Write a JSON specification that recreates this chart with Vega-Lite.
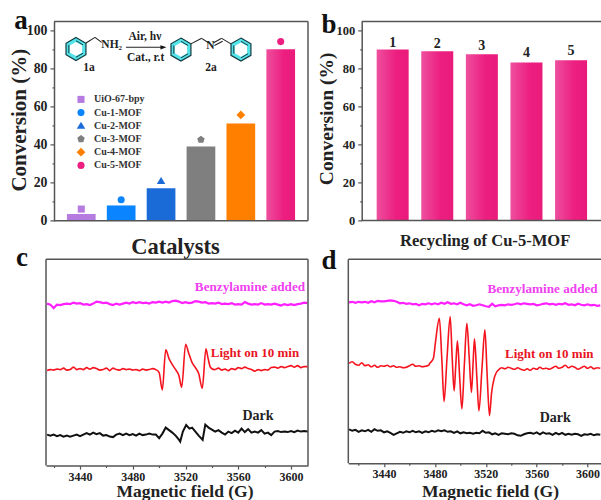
{
"$schema":"https://vega.github.io/schema/vega-lite/v6.json",
"padding":{"left":7,"top":6.4,"right":0,"bottom":0},
"columns":2,"bounds":"flush","spacing":{"row":37.9,"column":40.3},
"config":{"font":"Liberation Serif","view":{"stroke":null},
"axis":{"labelFont":"Liberation Serif","titleFont":"Liberation Serif","labelFontWeight":"bold","titleFontWeight":"bold","labelColor":"#222","titleColor":"#222","domainColor":"#555","tickColor":"#555","domainWidth":1.5,"tickWidth":1.2,"grid":false},
"text":{"font":"Liberation Serif","fontWeight":"bold"}},
"datasets":{
"cat":[{"catalyst":"UiO-67-bpy","idx":1,"conversion":3.5,"marker":6.1},{"catalyst":"Cu-1-MOF","idx":2,"conversion":8,"marker":11},{"catalyst":"Cu-2-MOF","idx":3,"conversion":17,"marker":20.8},{"catalyst":"Cu-3-MOF","idx":4,"conversion":39,"marker":42.5},{"catalyst":"Cu-4-MOF","idx":5,"conversion":51,"marker":55.5},{"catalyst":"Cu-5-MOF","idx":6,"conversion":90,"marker":94}],
"c_m":[{"f":3415,"v":162},{"f":3417.5,"v":161},{"f":3420,"v":157.5},{"f":3422.5,"v":161},{"f":3425,"v":160.5},{"f":3427.5,"v":161.5},{"f":3430,"v":162},{"f":3432.5,"v":161.5},{"f":3435,"v":163},{"f":3437.5,"v":162},{"f":3440,"v":162.5},{"f":3442.5,"v":161},{"f":3445,"v":161.5},{"f":3447.5,"v":160.5},{"f":3450,"v":162},{"f":3452.5,"v":164},{"f":3455,"v":163.5},{"f":3457.5,"v":162.5},{"f":3460,"v":163},{"f":3462.5,"v":161.5},{"f":3465,"v":160.5},{"f":3467.5,"v":162},{"f":3470,"v":161},{"f":3472.5,"v":162},{"f":3475,"v":163},{"f":3477.5,"v":162},{"f":3480,"v":163.5},{"f":3482.5,"v":162.5},{"f":3485,"v":163.5},{"f":3487.5,"v":162.5},{"f":3490,"v":163},{"f":3492.5,"v":162},{"f":3495,"v":163.5},{"f":3497.5,"v":163},{"f":3500,"v":164},{"f":3502.5,"v":163},{"f":3505,"v":164},{"f":3507.5,"v":163},{"f":3510,"v":164.5},{"f":3512.5,"v":165},{"f":3515,"v":164},{"f":3517.5,"v":162.5},{"f":3520,"v":163.5},{"f":3522.5,"v":162.5},{"f":3525,"v":163},{"f":3527.5,"v":164.5},{"f":3530,"v":164},{"f":3532.5,"v":163},{"f":3535,"v":163.5},{"f":3537.5,"v":162},{"f":3540,"v":162.5},{"f":3542.5,"v":162},{"f":3545,"v":163},{"f":3547.5,"v":161.5},{"f":3550,"v":162},{"f":3552.5,"v":161.5},{"f":3555,"v":162.5},{"f":3557.5,"v":161},{"f":3560,"v":161.5},{"f":3562.5,"v":161},{"f":3565,"v":163.5},{"f":3567.5,"v":162},{"f":3570,"v":161},{"f":3572.5,"v":161.5},{"f":3575,"v":161},{"f":3577.5,"v":162.5},{"f":3580,"v":161},{"f":3582.5,"v":161.5},{"f":3585,"v":161},{"f":3587.5,"v":162},{"f":3590,"v":161},{"f":3592.5,"v":160},{"f":3595,"v":161.5},{"f":3597.5,"v":160.5},{"f":3600,"v":161.5},{"f":3602.5,"v":160.5},{"f":3605,"v":161.5},{"f":3607.5,"v":162},{"f":3610,"v":163},{"f":3612.5,"v":162.5}],
"c_r":[{"f":3415,"v":95},{"f":3417.5,"v":96},{"f":3420,"v":95.5},{"f":3422.5,"v":96.5},{"f":3425,"v":96},{"f":3427.5,"v":97.5},{"f":3430,"v":95.5},{"f":3432.5,"v":96},{"f":3435,"v":98.5},{"f":3437.5,"v":96},{"f":3440,"v":97},{"f":3442.5,"v":96},{"f":3445,"v":98},{"f":3447.5,"v":96.5},{"f":3450,"v":98},{"f":3452.5,"v":97},{"f":3455,"v":95.5},{"f":3457.5,"v":96},{"f":3460,"v":97.5},{"f":3462.5,"v":95},{"f":3465,"v":97.5},{"f":3467.5,"v":96},{"f":3470,"v":95.5},{"f":3472.5,"v":97},{"f":3475,"v":96},{"f":3477.5,"v":96.5},{"f":3480,"v":95.5},{"f":3482.5,"v":96},{"f":3485,"v":95},{"f":3487.5,"v":96.5},{"f":3490,"v":95.5},{"f":3492.5,"v":96},{"f":3495,"v":97},{"f":3497.5,"v":96},{"f":3500,"v":93},{"f":3502.4,"v":75.7},{"f":3505,"v":115.7},{"f":3507.5,"v":107},{"f":3510,"v":101},{"f":3512.5,"v":96},{"f":3515,"v":90},{"f":3517.1,"v":78.3},{"f":3520.1,"v":121.3},{"f":3522.5,"v":112},{"f":3525,"v":103},{"f":3527.5,"v":98},{"f":3530,"v":92},{"f":3532.7,"v":77.3},{"f":3535.5,"v":116.7},{"f":3537,"v":108},{"f":3539,"v":98},{"f":3542,"v":96},{"f":3545,"v":97.5},{"f":3547.5,"v":95.5},{"f":3550,"v":96.5},{"f":3552.5,"v":95},{"f":3555,"v":97},{"f":3557.5,"v":96},{"f":3560,"v":98},{"f":3562.5,"v":97},{"f":3565,"v":98.5},{"f":3567.5,"v":97},{"f":3570,"v":96},{"f":3572.5,"v":94.5},{"f":3575,"v":96},{"f":3577.5,"v":95},{"f":3580,"v":96},{"f":3582.5,"v":95.5},{"f":3585,"v":98},{"f":3587.5,"v":98.5},{"f":3590,"v":97.5},{"f":3592.5,"v":99},{"f":3595,"v":98},{"f":3597.5,"v":99},{"f":3600,"v":100},{"f":3602.5,"v":98.5},{"f":3605,"v":100},{"f":3607.5,"v":98},{"f":3610,"v":99},{"f":3612.5,"v":99}],
"c_k":[{"f":3415,"v":31},{"f":3417.5,"v":30},{"f":3420,"v":31},{"f":3422.5,"v":29.5},{"f":3425,"v":30.5},{"f":3427.5,"v":29},{"f":3430,"v":30},{"f":3432.5,"v":29},{"f":3435,"v":30},{"f":3437.5,"v":31},{"f":3440,"v":29.5},{"f":3442.5,"v":31},{"f":3445,"v":32.5},{"f":3447.5,"v":31},{"f":3450,"v":33},{"f":3452.5,"v":31.5},{"f":3455,"v":32.5},{"f":3457.5,"v":30},{"f":3460,"v":30.5},{"f":3462.5,"v":29},{"f":3465,"v":28.5},{"f":3467.5,"v":31},{"f":3470,"v":32},{"f":3472.5,"v":30.5},{"f":3475,"v":32},{"f":3477.5,"v":30.5},{"f":3480,"v":31.5},{"f":3482.5,"v":30},{"f":3485,"v":32},{"f":3487.5,"v":30.5},{"f":3490,"v":31},{"f":3492.5,"v":32},{"f":3495,"v":31},{"f":3497.5,"v":31},{"f":3500,"v":27.5},{"f":3502.5,"v":32},{"f":3505,"v":38},{"f":3507,"v":36},{"f":3510,"v":33},{"f":3512.5,"v":30},{"f":3515,"v":26},{"f":3516,"v":24},{"f":3518,"v":34},{"f":3520.5,"v":40.5},{"f":3523,"v":37},{"f":3525,"v":38},{"f":3527.5,"v":34},{"f":3530,"v":30},{"f":3533,"v":25.7},{"f":3535,"v":41},{"f":3537.5,"v":38},{"f":3540,"v":36},{"f":3542.5,"v":34},{"f":3545,"v":35.5},{"f":3547.5,"v":33},{"f":3550,"v":31},{"f":3552.5,"v":34},{"f":3555,"v":32.5},{"f":3557.5,"v":35},{"f":3560,"v":33},{"f":3562.5,"v":37},{"f":3565,"v":33.5},{"f":3567.5,"v":36.5},{"f":3570,"v":33},{"f":3572.5,"v":34},{"f":3575,"v":33},{"f":3577.5,"v":35.5},{"f":3580,"v":32},{"f":3582.5,"v":33},{"f":3585,"v":30.5},{"f":3587.5,"v":34},{"f":3590,"v":34.5},{"f":3592.5,"v":33.5},{"f":3595,"v":34},{"f":3597.5,"v":33.5},{"f":3600,"v":34.5},{"f":3602.5,"v":33.5},{"f":3605,"v":35},{"f":3607.5,"v":34},{"f":3610,"v":34.5},{"f":3612.5,"v":34}],
"d_m":[{"f":3412.5,"v":161},{"f":3415,"v":161.5},{"f":3417.5,"v":160.5},{"f":3420,"v":161.5},{"f":3422.5,"v":161},{"f":3425,"v":161.5},{"f":3427.5,"v":160.5},{"f":3430,"v":162},{"f":3432.5,"v":161},{"f":3435,"v":162.5},{"f":3437.5,"v":162},{"f":3440,"v":162},{"f":3442.5,"v":162.5},{"f":3445,"v":163},{"f":3447.5,"v":162.5},{"f":3450,"v":161.5},{"f":3452.5,"v":160},{"f":3455,"v":160.5},{"f":3457.5,"v":159.5},{"f":3460,"v":160},{"f":3462.5,"v":159},{"f":3465,"v":159.5},{"f":3467.5,"v":158},{"f":3470,"v":159.5},{"f":3472.5,"v":159},{"f":3475,"v":160},{"f":3477.5,"v":159},{"f":3480,"v":160},{"f":3482.5,"v":159},{"f":3485,"v":160.5},{"f":3487.5,"v":159.5},{"f":3490,"v":161},{"f":3492.5,"v":159.5},{"f":3495,"v":160},{"f":3497.5,"v":159},{"f":3500,"v":160.5},{"f":3502.5,"v":159},{"f":3505,"v":158},{"f":3507.5,"v":159},{"f":3510,"v":157.5},{"f":3512.5,"v":158},{"f":3515,"v":159},{"f":3517.5,"v":158},{"f":3520,"v":157},{"f":3522.5,"v":156.5},{"f":3525,"v":159.5},{"f":3527.5,"v":157},{"f":3530,"v":158},{"f":3532.5,"v":158.5},{"f":3535,"v":158},{"f":3537.5,"v":159},{"f":3540,"v":158.5},{"f":3542.5,"v":159},{"f":3545,"v":160},{"f":3547.5,"v":159},{"f":3550,"v":160},{"f":3552.5,"v":159.5},{"f":3555,"v":159},{"f":3557.5,"v":159.5},{"f":3560,"v":158},{"f":3562.5,"v":158.5},{"f":3565,"v":159.5},{"f":3567.5,"v":160},{"f":3570,"v":159},{"f":3572.5,"v":159.5},{"f":3575,"v":158.5},{"f":3577.5,"v":159.5},{"f":3580,"v":159},{"f":3582.5,"v":160},{"f":3585,"v":158.5},{"f":3587.5,"v":159},{"f":3590,"v":158},{"f":3592.5,"v":159.5},{"f":3595,"v":158.5},{"f":3597.5,"v":158},{"f":3600,"v":159},{"f":3602.5,"v":158},{"f":3605,"v":158.5},{"f":3607.5,"v":157.5},{"f":3610,"v":158}],
"d_r":[{"f":3412.5,"v":100},{"f":3415,"v":101.5},{"f":3417.5,"v":99},{"f":3420,"v":98},{"f":3422.5,"v":100.5},{"f":3425,"v":97.5},{"f":3427.5,"v":98.5},{"f":3430,"v":96.5},{"f":3432.5,"v":98},{"f":3435,"v":96},{"f":3437.5,"v":97.5},{"f":3440,"v":97},{"f":3442.5,"v":98},{"f":3445,"v":96.5},{"f":3447.5,"v":97.5},{"f":3450,"v":96},{"f":3452.5,"v":96.5},{"f":3455,"v":95.5},{"f":3457.5,"v":96},{"f":3460,"v":97.5},{"f":3462.5,"v":99},{"f":3465,"v":97},{"f":3467.5,"v":97.5},{"f":3470,"v":96.5},{"f":3472.5,"v":97},{"f":3475,"v":98},{"f":3476,"v":100},{"f":3478.8,"v":105},{"f":3480.5,"v":122},{"f":3483.5,"v":145},{"f":3485.4,"v":105},{"f":3487.2,"v":61.7},{"f":3489.5,"v":105},{"f":3492,"v":146.7},{"f":3493.6,"v":105},{"f":3495.1,"v":72.4},{"f":3496.4,"v":98},{"f":3497.7,"v":122.4},{"f":3499.5,"v":85},{"f":3501.2,"v":54.4},{"f":3503.2,"v":100},{"f":3505.1,"v":140},{"f":3507,"v":105},{"f":3508.7,"v":71},{"f":3510,"v":100},{"f":3511.1,"v":124.4},{"f":3513,"v":85},{"f":3514.6,"v":52.4},{"f":3517,"v":95},{"f":3519.3,"v":133.4},{"f":3521,"v":90},{"f":3522.9,"v":47.7},{"f":3524.5,"v":70},{"f":3526.6,"v":85},{"f":3528,"v":90},{"f":3530,"v":93.4},{"f":3532.5,"v":95.5},{"f":3535,"v":94.5},{"f":3537.5,"v":96},{"f":3540,"v":95},{"f":3542.5,"v":94},{"f":3545,"v":95.5},{"f":3547.5,"v":94},{"f":3550,"v":93},{"f":3552.5,"v":94.5},{"f":3555,"v":93},{"f":3557.5,"v":95},{"f":3560,"v":94},{"f":3562.5,"v":96},{"f":3565,"v":94.5},{"f":3567.5,"v":95},{"f":3570,"v":94},{"f":3572.5,"v":95.5},{"f":3575,"v":97},{"f":3577.5,"v":95},{"f":3580,"v":96},{"f":3582.5,"v":98},{"f":3585,"v":95.5},{"f":3587.5,"v":97},{"f":3590,"v":96},{"f":3592.5,"v":94},{"f":3595,"v":95.5},{"f":3597.5,"v":97},{"f":3600,"v":95},{"f":3602.5,"v":96.5},{"f":3605,"v":94.5},{"f":3607.5,"v":95.5},{"f":3610,"v":95}],
"d_k":[{"f":3412.5,"v":34},{"f":3415,"v":32.5},{"f":3417.5,"v":33.5},{"f":3420,"v":31.5},{"f":3422.5,"v":33},{"f":3425,"v":32},{"f":3427.5,"v":33.5},{"f":3430,"v":31.5},{"f":3432.5,"v":34},{"f":3435,"v":32.5},{"f":3437.5,"v":33},{"f":3440,"v":31},{"f":3442.5,"v":32},{"f":3445,"v":30.5},{"f":3447.5,"v":28.5},{"f":3450,"v":30},{"f":3452.5,"v":31.5},{"f":3455,"v":30.5},{"f":3457.5,"v":32},{"f":3460,"v":31},{"f":3462.5,"v":32.5},{"f":3465,"v":31},{"f":3467.5,"v":32},{"f":3470,"v":30.5},{"f":3472.5,"v":32},{"f":3475,"v":31},{"f":3477.5,"v":32.5},{"f":3480,"v":31.5},{"f":3482.5,"v":33},{"f":3485,"v":32},{"f":3487.5,"v":33},{"f":3490,"v":31.5},{"f":3492.5,"v":32},{"f":3495,"v":30.5},{"f":3497.5,"v":32},{"f":3500,"v":30},{"f":3502.5,"v":31},{"f":3505,"v":30},{"f":3507.5,"v":30.5},{"f":3510,"v":29.5},{"f":3512.5,"v":30.5},{"f":3515,"v":30},{"f":3517.5,"v":32.5},{"f":3520,"v":30.5},{"f":3522.5,"v":31},{"f":3525,"v":29},{"f":3527.5,"v":30},{"f":3530,"v":28.5},{"f":3532.5,"v":30},{"f":3535,"v":29.5},{"f":3537.5,"v":29},{"f":3540,"v":30},{"f":3542.5,"v":29.5},{"f":3545,"v":28},{"f":3547.5,"v":27.5},{"f":3550,"v":29},{"f":3552.5,"v":30},{"f":3555,"v":30.5},{"f":3557.5,"v":29.5},{"f":3560,"v":31},{"f":3562.5,"v":29},{"f":3565,"v":31},{"f":3567.5,"v":29.5},{"f":3570,"v":30},{"f":3572.5,"v":28.5},{"f":3575,"v":30.5},{"f":3577.5,"v":29},{"f":3580,"v":30.5},{"f":3582.5,"v":28.5},{"f":3585,"v":29.5},{"f":3587.5,"v":28.5},{"f":3590,"v":29.5},{"f":3592.5,"v":29},{"f":3595,"v":27.5},{"f":3597.5,"v":29},{"f":3600,"v":28.5},{"f":3602.5,"v":29.5},{"f":3605,"v":28},{"f":3607.5,"v":29},{"f":3610,"v":28.5}]
},
"concat":[
  {"width":262,"height":199.3,
   "layer":[
    {"data":{"name":"cat"},"transform":[{"filter":"datum.idx < 6"}],
     "mark":{"type":"bar","orient":"vertical","size":28.7},
     "encoding":{
      "x":{"field":"idx","type":"quantitative","scale":{"domain":[0.1155,6.684],"nice":false,"zero":false,"padding":0},"axis":{"title":"Catalysts","titleFontSize":22.5,"titleBaseline":"middle","titleX":129,"titleY":26,"labels":false,"ticks":false,"domain":false}},
      "y":{"field":"conversion","type":"quantitative","scale":{"domain":[0,104.6],"nice":false},"axis":{"offset":-8,"title":"Conversion (%)","titleFontSize":21,"titleBaseline":"middle","titleX":-35,"titleY":98.3,"titleAngle":-90,"labelFontSize":13.8,"labelPadding":3,"labelOverlap":false,"tickCount":30,"values":[0,10,20,30,40,50,60,70,80,90,100],"labelExpr":"datum.value % 20 == 0 ? datum.label : ''","tickSize":{"condition":{"test":"datum.value % 20 != 0","value":2},"value":4}}},
      "fill":{"field":"catalyst","type":"nominal","legend":null,"scale":{"domain":["UiO-67-bpy","Cu-1-MOF","Cu-2-MOF","Cu-3-MOF","Cu-4-MOF"],"range":["#b57be0","#0a84ff","#1a6bd8","#7f7f7f","#ff7f00"]}}
     }},
    {"data":{"name":"cat"},"transform":[{"filter":"datum.idx == 6"}],
     "mark":{"type":"bar","orient":"vertical","size":28.7,"color":{"gradient":"linear","x1":0,"x2":1,"y1":0,"y2":0,"stops":[{"offset":0,"color":"#ee4f9e"},{"offset":0.6,"color":"#ec1f80"},{"offset":1,"color":"#ea1a7a"}]}},
     "encoding":{"x":{"field":"idx","type":"quantitative"},"y":{"field":"conversion","type":"quantitative"}}},
    {"data":{"values":[{"a":0.316,"b":0,"c":6.684,"d":0},{"a":6.684,"b":0,"c":6.684,"d":104.6}]},
     "mark":{"type":"rule","stroke":"#555","strokeWidth":1.5},
     "encoding":{"x":{"field":"a","type":"quantitative"},"y":{"field":"b","type":"quantitative"},"x2":{"field":"c"},"y2":{"field":"d"}}},
    {"data":{"values":[{"a":0.316,"b":104.6},{"a":6.684,"b":104.6}]},
     "mark":{"type":"line","color":"#555","strokeWidth":1.5},
     "encoding":{"x":{"field":"a","type":"quantitative"},"y":{"field":"b","type":"quantitative"}}},
    {"data":{"name":"cat"},"mark":{"type":"point","filled":true,"size":50,"opacity":1},
     "encoding":{"x":{"field":"idx","type":"quantitative"},"y":{"field":"marker","type":"quantitative"},
      "color":{"field":"catalyst","type":"nominal","sort":null,"scale":{"domain":["UiO-67-bpy","Cu-1-MOF","Cu-2-MOF","Cu-3-MOF","Cu-4-MOF","Cu-5-MOF"],"range":["#b57be0","#0a84ff","#1a6bd8","#7f7f7f","#ff7f00","#ec1f80"]},
       "legend":{"orient":"none","legendX":30,"legendY":73,"title":null,"labelFont":"Liberation Serif","labelFontWeight":"bold","labelFontSize":10,"labelColor":"#333","symbolSize":50,"rowPadding":3.2,"labelOffset":8,"symbolStrokeWidth":0}},
      "shape":{"field":"catalyst","type":"nominal","sort":null,"scale":{"domain":["UiO-67-bpy","Cu-1-MOF","Cu-2-MOF","Cu-3-MOF","Cu-4-MOF","Cu-5-MOF"],"range":["square","circle","M0,-1.15L1.2,.85L-1.2,.85Z","M0,-1.1L1.05,-.34L.65,.89L-.65,.89L-1.05,-.34Z","M0,-1.25L1.25,0L0,1.25L-1.25,0Z","circle"]}}
     }},
    {"data":{"values":[{"idx":0.867,"y":90.1},{"idx":3.499,"y":89.8},{"idx":5.003,"y":89.8}]},
     "mark":{"type":"point","filled":true,"opacity":1,"size":529,"fill":"#55e3ea","stroke":"#123c40","strokeWidth":1.2,"shape":"M0,-1L.866,-.5L.866,.5L0,1L-.866,.5L-.866,-.5Z"},
     "encoding":{"x":{"field":"idx","type":"quantitative"},"y":{"field":"y","type":"quantitative"}}},
    {"data":{"values":[{"idx":0.867,"y":90.1},{"idx":3.499,"y":89.8},{"idx":5.003,"y":89.8}]},
     "mark":{"type":"point","filled":true,"opacity":1,"size":200,"fill":"#ffffff","stroke":null,"shape":"M0,-1L.866,-.5L.866,.5L0,1L-.866,.5L-.866,-.5Z"},
     "encoding":{"x":{"field":"idx","type":"quantitative"},"y":{"field":"y","type":"quantitative"}}},
    {"data":{"values":[{"idx":0.867,"y":90.1},{"idx":3.499,"y":89.8},{"idx":5.003,"y":89.8}]},
     "mark":{"type":"point","filled":false,"opacity":1,"size":529,"stroke":"#123c40","strokeWidth":1,"shape":"M-.62,-.36L-.62,.36M.62,-.36L0,-.72M.62,.36L0,.72"},
     "encoding":{"x":{"field":"idx","type":"quantitative"},"y":{"field":"y","type":"quantitative"}}},
    {"data":{"values":[{"a":1.118,"b":93.3,"c":1.343,"d":96.2},{"a":1.343,"b":96.2,"c":1.511,"d":93.6},{"a":3.749,"b":92.8,"c":4.018,"d":95.7},{"a":4.018,"b":95.7,"c":4.2,"d":93.3},{"a":4.308,"b":93.3,"c":4.519,"d":95.7},{"a":4.338,"b":91.9,"c":4.544,"d":94.2},{"a":4.519,"b":95.7,"c":4.752,"d":92.8},{"a":2.12,"b":91,"c":3.048,"d":91}]},
     "mark":{"type":"rule","stroke":"#222","strokeWidth":1.1},
     "encoding":{"x":{"field":"a","type":"quantitative"},"y":{"field":"b","type":"quantitative"},"x2":{"field":"c"},"y2":{"field":"d"}}},
    {"data":{"values":[{"idx":3.06,"y":91}]},
     "mark":{"type":"point","filled":true,"opacity":1,"size":36,"fill":"#111","shape":"M-1,-.7L1,0L-1,.7Z"},
     "encoding":{"x":{"field":"idx","type":"quantitative"},"y":{"field":"y","type":"quantitative"}}},
    {"data":{"values":[{"idx":1.762,"y":92.4,"t":"NH₂"},{"idx":4.238,"y":91.9,"t":"N"},{"idx":2.596,"y":96.2,"t":"Air, hν"},{"idx":2.614,"y":85.4,"t":"Cat., r.t"},{"idx":1.193,"y":79.9,"t":"1a"},{"idx":4.25,"y":79.9,"t":"2a"}]},
     "mark":{"type":"text","fontSize":11.5,"color":"#222","baseline":"middle"},
     "encoding":{"x":{"field":"idx","type":"quantitative"},"y":{"field":"y","type":"quantitative"},"text":{"field":"t"}}},
    {"data":{"values":[{"idx":-0.511,"y":105,"t":"a"}]},
     "mark":{"type":"text","fontSize":27,"color":"#111","baseline":"middle"},
     "encoding":{"x":{"field":"idx","type":"quantitative"},"y":{"field":"y","type":"quantitative"},"text":{"field":"t"}}}
   ],
   "resolve":{"scale":{"fill":"independent"}}
  },
 {"width":253,"height":199.2,
  "layer":[
   {"data":{"values":[{"cycle":1,"conversion":90.2,"lab":93.8},{"cycle":2,"conversion":89.3,"lab":93.3},{"cycle":3,"conversion":87.7,"lab":92},{"cycle":4,"conversion":83.3,"lab":88.2},{"cycle":5,"conversion":84.5,"lab":89.5}]},
    "layer":[
     {"mark":{"type":"bar","orient":"vertical","size":32,"color":{"gradient":"linear","x1":0,"x2":1,"y1":0,"y2":0,"stops":[{"offset":0,"color":"#ee4f9e"},{"offset":0.6,"color":"#ec1f80"},{"offset":1,"color":"#ea1a7a"}]}},
      "encoding":{"x":{"field":"cycle","type":"quantitative","scale":{"domain":[0.005,5.678],"nice":false,"zero":false,"padding":0},"axis":{"title":"Recycling of Cu-5-MOF","titleFontSize":16.6,"titleBaseline":"middle","titleX":136.4,"titleY":20,"labels":false,"ticks":false,"domain":false}},
       "y":{"field":"conversion","type":"quantitative","scale":{"domain":[0,105],"nice":false},"axis":{"offset":-13.4,"title":"Conversion (%)","titleFontSize":19.5,"titleBaseline":"middle","titleX":-35,"titleY":97,"titleAngle":-90,"labelFontSize":12.5,"labelPadding":3,"labelOverlap":false,"tickCount":30,"values":[0,10,20,30,40,50,60,70,80,90,100],"labelExpr":"datum.value % 20 == 0 ? datum.label : ''","tickSize":{"condition":{"test":"datum.value % 20 != 0","value":2},"value":4}}}}},
     {"mark":{"type":"text","fontSize":14,"color":"#222","baseline":"middle"},
      "encoding":{"x":{"field":"cycle","type":"quantitative"},"y":{"field":"lab","type":"quantitative"},"text":{"field":"cycle","type":"nominal"}}}
    ]},
   {"data":{"values":[{"a":0.305,"b":0,"c":5.678,"d":0}]},
    "mark":{"type":"rule","stroke":"#555","strokeWidth":1.5},
    "encoding":{"x":{"field":"a","type":"quantitative"},"y":{"field":"b","type":"quantitative"},"x2":{"field":"c"},"y2":{"field":"d"}}},
   {"data":{"values":[{"a":0.305,"b":105},{"a":5.678,"b":105}]},
    "mark":{"type":"line","color":"#555","strokeWidth":1.5},
    "encoding":{"x":{"field":"a","type":"quantitative"},"y":{"field":"b","type":"quantitative"}}},
   {"data":{"values":[{"idx":-0.428,"y":103.2,"t":"b"}]},
    "mark":{"type":"text","fontSize":27,"color":"#111","baseline":"middle"},
    "encoding":{"x":{"field":"idx","type":"quantitative"},"y":{"field":"y","type":"quantitative"},"text":{"field":"t"}}}
  ]},
 {"width":262,"height":206.3,
  "layer":[
   {"data":{"name":"c_m"},"mark":{"type":"line","color":"#ff1fff","strokeWidth":2.2},
    "encoding":{"x":{"field":"f","type":"quantitative","title":"Magnetic field (G)","scale":{"domain":[3414.2,3612.9],"nice":false,"zero":false},"axis":{"titleFontSize":17.5,"titleBaseline":"middle","titleX":138.5,"titleY":25.8,"labelFontSize":12,"labelPadding":2,"labelOverlap":false,"tickCount":30,"values":[3420,3440,3460,3480,3500,3520,3540,3560,3580,3600],"labelExpr":"(datum.value - 3440) % 40 == 0 ? datum.label : ''","format":"d","tickSize":{"condition":{"test":"(datum.value - 3440) % 40 != 0","value":2},"value":3.5}}},
     "y":{"field":"v","type":"quantitative","scale":{"domain":[0,206.3],"nice":false},"axis":null}}},
   {"data":{"values":[{"a":3414.2,"b":0,"c":3414.2,"d":206.3},{"a":3612.9,"b":0,"c":3612.9,"d":206.3}]},
    "mark":{"type":"rule","stroke":"#555","strokeWidth":1.5},
    "encoding":{"x":{"field":"a","type":"quantitative"},"y":{"field":"b","type":"quantitative"},"x2":{"field":"c"},"y2":{"field":"d"}}},
   {"data":{"values":[{"a":3414.2,"b":206.3},{"a":3612.9,"b":206.3}]},
    "mark":{"type":"line","color":"#555","strokeWidth":1.5},
    "encoding":{"x":{"field":"a","type":"quantitative"},"y":{"field":"b","type":"quantitative"}}},
   {"data":{"name":"c_r"},"mark":{"type":"line","color":"#f5141e","strokeWidth":1.6,"interpolate":"monotone"},"encoding":{"x":{"field":"f","type":"quantitative"},"y":{"field":"v","type":"quantitative"}}},
   {"data":{"name":"c_k"},"mark":{"type":"line","color":"#111","strokeWidth":2},"encoding":{"x":{"field":"f","type":"quantitative"},"y":{"field":"v","type":"quantitative"}}},
   {"data":{"values":[{"f":3568.9,"v":179,"t":"Benzylamine added"}]},"mark":{"type":"text","fontSize":13.2,"color":"#f040f0","baseline":"middle"},"encoding":{"x":{"field":"f","type":"quantitative"},"y":{"field":"v","type":"quantitative"},"text":{"field":"t"}}},
   {"data":{"values":[{"f":3572.7,"v":113,"t":"Light on 10 min"}]},"mark":{"type":"text","fontSize":13,"color":"#e8141e","baseline":"middle"},"encoding":{"x":{"field":"f","type":"quantitative"},"y":{"field":"v","type":"quantitative"},"text":{"field":"t"}}},
   {"data":{"values":[{"f":3575,"v":50,"t":"Dark"}]},"mark":{"type":"text","fontSize":14,"color":"#222","baseline":"middle"},"encoding":{"x":{"field":"f","type":"quantitative"},"y":{"field":"v","type":"quantitative"},"text":{"field":"t"}}},
   {"data":{"values":[{"f":3396,"v":208,"t":"c"}]},"mark":{"type":"text","fontSize":27,"color":"#111","baseline":"middle"},"encoding":{"x":{"field":"f","type":"quantitative"},"y":{"field":"v","type":"quantitative"},"text":{"field":"t"}}}
  ]},
 {"width":253,"height":204,
  "layer":[
   {"data":{"name":"d_m"},"mark":{"type":"line","color":"#ff1fff","strokeWidth":2.2},
    "encoding":{"x":{"field":"f","type":"quantitative","title":"Magnetic field (G)","scale":{"domain":[3411.9,3610.8],"nice":false,"zero":false},"axis":{"titleFontSize":17.5,"titleBaseline":"middle","titleX":141.7,"titleY":27.8,"labelFontSize":12,"labelPadding":2,"labelOverlap":false,"tickCount":30,"values":[3420,3440,3460,3480,3500,3520,3540,3560,3580,3600],"labelExpr":"(datum.value - 3440) % 40 == 0 ? datum.label : ''","format":"d","tickSize":{"condition":{"test":"(datum.value - 3440) % 40 != 0","value":2},"value":3.5}}},
     "y":{"field":"v","type":"quantitative","scale":{"domain":[0,204],"nice":false},"axis":null}}},
   {"data":{"values":[{"a":3411.9,"b":0,"c":3411.9,"d":204}]},
    "mark":{"type":"rule","stroke":"#555","strokeWidth":1.5},
    "encoding":{"x":{"field":"a","type":"quantitative"},"y":{"field":"b","type":"quantitative"},"x2":{"field":"c"},"y2":{"field":"d"}}},
   {"data":{"values":[{"a":3411.9,"b":204},{"a":3610.8,"b":204}]},
    "mark":{"type":"line","color":"#555","strokeWidth":1.5},
    "encoding":{"x":{"field":"a","type":"quantitative"},"y":{"field":"b","type":"quantitative"}}},
   {"data":{"name":"d_r"},"mark":{"type":"line","color":"#f5141e","strokeWidth":1.6,"interpolate":"monotone"},"encoding":{"x":{"field":"f","type":"quantitative"},"y":{"field":"v","type":"quantitative"}}},
   {"data":{"name":"d_k"},"mark":{"type":"line","color":"#111","strokeWidth":2},"encoding":{"x":{"field":"f","type":"quantitative"},"y":{"field":"v","type":"quantitative"}}},
   {"data":{"values":[{"f":3564.6,"v":174,"t":"Benzylamine added"}]},"mark":{"type":"text","fontSize":13.2,"color":"#f040f0","baseline":"middle"},"encoding":{"x":{"field":"f","type":"quantitative"},"y":{"field":"v","type":"quantitative"},"text":{"field":"t"}}},
   {"data":{"values":[{"f":3569.9,"v":109.4,"t":"Light on 10 min"}]},"mark":{"type":"text","fontSize":13,"color":"#e8141e","baseline":"middle"},"encoding":{"x":{"field":"f","type":"quantitative"},"y":{"field":"v","type":"quantitative"},"text":{"field":"t"}}},
   {"data":{"values":[{"f":3574.6,"v":45,"t":"Dark"}]},"mark":{"type":"text","fontSize":14,"color":"#222","baseline":"middle"},"encoding":{"x":{"field":"f","type":"quantitative"},"y":{"field":"v","type":"quantitative"},"text":{"field":"t"}}},
   {"data":{"values":[{"f":3396.7,"v":202.7,"t":"d"}]},"mark":{"type":"text","fontSize":27,"color":"#111","baseline":"middle"},"encoding":{"x":{"field":"f","type":"quantitative"},"y":{"field":"v","type":"quantitative"},"text":{"field":"t"}}}
  ]}
]}
